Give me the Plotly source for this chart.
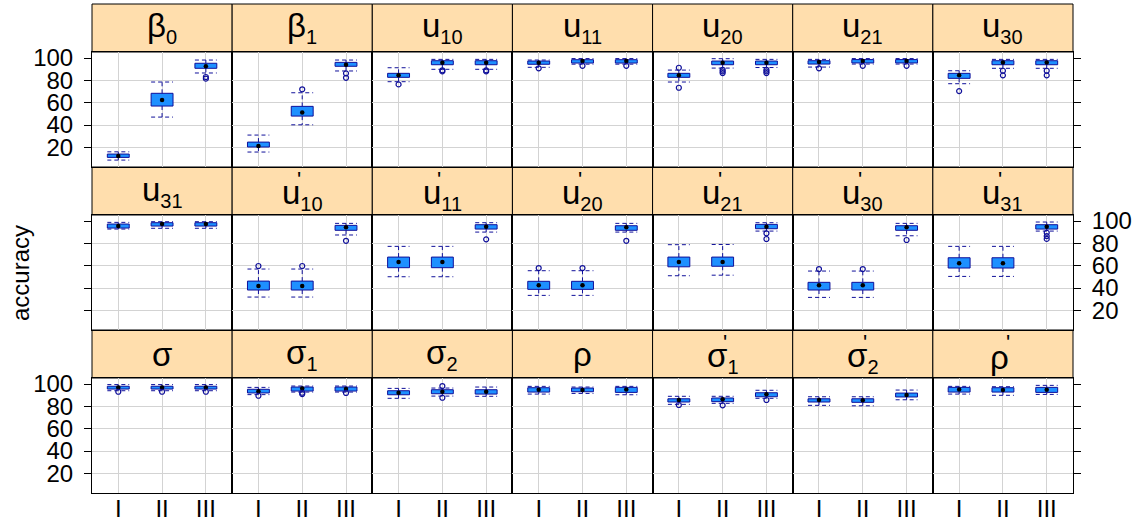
import plotly.graph_objects as go

# ---------------- data ----------------
GROUPS = ["I", "II", "III"]

STRIP_MAIN = ["β", "β", "u", "u", "u", "u", "u",
              "u", "u", "u", "u", "u", "u", "u",
              "σ", "σ", "σ", "ρ", "σ", "σ", "ρ"]
STRIP_SUB = ["0", "1", "10", "11", "20", "21", "30",
             "31", "10", "11", "20", "21", "30", "31",
             "", "1", "2", "", "1", "2", ""]
STRIP_PRIME = [False] * 7 + [False] + [True] * 6 + [False] * 4 + [True] * 3

LOWER = [
    [8.6, 47.1, 86.6], [15.8, 40.2, 88.4], [78.8, 89.9, 89.9], [91.7, 94.5, 94.5],
    [78.5, 91.0, 91.5], [91.9, 94.6, 94.6], [77.0, 90.8, 90.8],
    [92.8, 93.5, 93.5], [31.9, 31.9, 87.5], [50.1, 50.1, 90.1], [33.4, 33.4, 90.1],
    [51.0, 51.5, 91.0], [31.6, 31.6, 86.8], [50.4, 50.4, 91.0],
    [94.0, 94.0, 94.0], [90.5, 92.8, 92.8], [87.2, 89.2, 89.0], [91.0, 91.6, 90.4],
    [81.8, 82.7, 87.2], [80.9, 80.5, 85.9], [91.0, 89.9, 90.7],
]
Q1 = [
    [11.0, 57.0, 90.8], [20.3, 48.0, 92.6], [82.7, 94.0, 94.0], [94.4, 95.5, 95.5],
    [82.7, 94.0, 94.0], [94.6, 95.6, 95.6], [81.8, 94.0, 94.0],
    [93.7, 95.5, 95.5], [38.2, 38.2, 91.7], [58.2, 58.2, 92.8], [38.8, 38.8, 91.7],
    [59.0, 59.5, 93.1], [38.2, 38.2, 91.7], [57.9, 57.9, 92.8],
    [95.5, 95.5, 95.5], [92.0, 93.7, 93.7], [90.4, 91.3, 91.0], [92.8, 93.1, 92.5],
    [83.9, 84.2, 88.6], [83.9, 83.6, 88.4], [92.8, 92.8, 92.5],
]
MEDIAN = [
    [12.2, 62.4, 92.6], [21.1, 51.3, 94.0], [84.5, 95.8, 95.8], [95.8, 97.3, 97.3],
    [84.5, 95.8, 95.8], [96.4, 97.3, 97.3], [84.5, 96.1, 96.1],
    [95.5, 97.3, 97.3], [41.8, 41.8, 94.4], [63.3, 63.3, 94.9], [42.4, 42.4, 94.4],
    [63.3, 63.3, 94.9], [42.4, 42.4, 94.4], [62.1, 62.1, 94.9],
    [97.0, 97.0, 97.0], [93.5, 96.1, 95.5], [92.2, 93.1, 93.1], [94.9, 94.6, 95.2],
    [85.7, 86.3, 90.8], [85.7, 85.5, 90.1], [95.2, 94.6, 94.9],
]
Q3 = [
    [14.0, 68.4, 95.3], [24.7, 56.7, 96.1], [86.3, 97.6, 97.6], [97.3, 98.5, 98.5],
    [86.3, 97.3, 97.3], [97.6, 98.6, 98.6], [86.3, 97.6, 97.6],
    [97.3, 98.5, 98.5], [46.2, 46.2, 96.1], [67.7, 67.7, 96.7], [46.0, 46.0, 95.8],
    [67.7, 67.7, 97.0], [45.1, 45.1, 95.8], [67.1, 67.1, 96.7],
    [98.0, 98.0, 98.0], [95.3, 97.3, 97.3], [94.0, 94.9, 94.9], [96.7, 96.4, 97.0],
    [86.8, 87.5, 92.2], [86.8, 86.8, 91.9], [97.0, 96.7, 97.0],
]
UPPER = [
    [16.0, 78.5, 98.2], [31.0, 68.9, 98.2], [91.3, 98.8, 98.8], [98.2, 99.5, 99.5],
    [89.2, 99.4, 98.8], [98.8, 99.5, 99.5], [88.6, 98.8, 98.8],
    [98.8, 99.4, 99.4], [57.0, 57.0, 97.9], [77.3, 77.3, 98.5], [55.5, 55.5, 97.9],
    [78.8, 79.0, 98.5], [55.2, 55.2, 97.9], [77.3, 77.3, 99.1],
    [99.5, 99.5, 99.5], [97.0, 98.2, 98.2], [96.1, 96.4, 97.3], [97.9, 97.3, 97.9],
    [89.0, 89.0, 94.4], [88.6, 88.6, 94.6], [97.9, 97.6, 98.8],
]
OUTLIERS = [
    [[], [], [83.0, 81.5]], [[], [72.0], [86.3, 82.3]], [[76.4], [89.0, 88.0], [89.0, 88.0]],
    [[90.8], [93.0], [93.0]], [[91.3, 73.4], [89.5, 88.0, 86.5], [89.5, 88.0, 86.5]],
    [[90.8], [93.0], [93.0]], [[70.4], [88.6, 84.5], [88.6, 84.5]],
    [[], [], []], [[59.7], [59.7], [82.3]], [[], [], [83.6]], [[57.9], [57.9], [82.3]],
    [[], [], [89.0, 83.9]], [[57.0], [57.0], [83.0]], [[], [], [89.5, 86.5, 84.0]],
    [[93.1], [93.1], [93.1]], [[89.5], [92.2, 91.0], [92.0]], [[], [98.2, 87.7], []],
    [[], [], []], [[81.2], [80.9], [85.7]], [[], [], []], [[], [], []],
]
Y_TICKS = [20, 40, 60, 80, 100]
Y_GRID = [20, 40, 60, 80]
Y_TITLE = "accuracy"

# ---------------- layout geometry (pixels) ----------------
W, H = 1133, 523
LEFT, RIGHT = 92, 1073
COLW = (RIGHT - LEFT) / 7
TOP0, STRIP_H, PANEL_H, ROW_STEP = 4, 48, 115, 163
BOX_W = 0.5
FILL = "#1E90FF"
EDGE = "#10109A"
STRIP_FILL = "#FFDEAD"
GRID = "#D3D3D3"
FONT = "Liberation Sans, Arial, sans-serif"

fig = go.Figure()
layout = dict(width=W, height=H, margin=dict(l=0, r=0, t=0, b=0, pad=0, autoexpand=False),
              paper_bgcolor="white", plot_bgcolor="white", showlegend=False,
              autosize=False, hovermode=False, font=dict(family=FONT, color="black"))
shapes, annotations = [], []

for i in range(21):
    r, c = divmod(i, 7)
    n = i + 1
    sfx = "" if n == 1 else str(n)
    x0 = LEFT + c * COLW
    x1 = x0 + COLW
    st = TOP0 + r * ROW_STEP
    pt = st + STRIP_H
    pb = pt + PANEL_H

    xa = dict(domain=[x0 / W, x1 / W], range=[0.4, 3.6], anchor="y" + sfx,
              tickvals=[1, 2, 3], ticktext=GROUPS, showgrid=True, gridcolor=GRID,
              gridwidth=1, zeroline=False, showline=True, mirror=True,
              linecolor="black", linewidth=1, ticks="", automargin=False,
              showticklabels=(r == 2), tickfont=dict(size=24, family=FONT),
              ticklabelstandoff=-6)
    ya = dict(domain=[1 - pb / H, 1 - pt / H], range=[2.4, 105.4], anchor="x" + sfx,
              tickvals=Y_TICKS, showgrid=False, zeroline=False, showline=True,
              mirror=True, linecolor="black", linewidth=1, automargin=False,
              minor=dict(tickvals=Y_GRID, showgrid=True, gridcolor=GRID, gridwidth=1, ticks=""),
              tickfont=dict(size=24, family=FONT), ticklabelstandoff=6)
    if c == 0:
        ya.update(side="left", ticks="outside", ticklen=7, tickcolor="black",
                  showticklabels=(r != 1))
    elif c == 6:
        ya.update(side="right", ticks="outside", ticklen=7, tickcolor="black",
                  showticklabels=(r == 1))
    else:
        ya.update(ticks="", showticklabels=False)
    layout["xaxis" + sfx] = xa
    layout["yaxis" + sfx] = ya

    xs = [1, 2, 3]
    # boxes
    fig.add_trace(go.Bar(x=xs, base=Q1[i], y=[q3 - q1 for q1, q3 in zip(Q1[i], Q3[i])],
                         width=BOX_W, marker=dict(color=FILL, line=dict(color=EDGE, width=1)),
                         xaxis="x" + sfx, yaxis="y" + sfx))
    # whiskers + caps
    wx, wy = [], []
    for g in range(3):
        xg = xs[g]
        wx += [xg, xg, None, xg, xg, None,
               xg - BOX_W / 2, xg + BOX_W / 2, None, xg - BOX_W / 2, xg + BOX_W / 2, None]
        wy += [Q3[i][g], UPPER[i][g], None, Q1[i][g], LOWER[i][g], None,
               UPPER[i][g], UPPER[i][g], None, LOWER[i][g], LOWER[i][g], None]
    fig.add_trace(go.Scatter(x=wx, y=wy, mode="lines",
                             line=dict(color=EDGE, width=1, dash="4px,3px"),
                             xaxis="x" + sfx, yaxis="y" + sfx))
    # medians
    fig.add_trace(go.Scatter(x=xs, y=MEDIAN[i], mode="markers",
                             marker=dict(color="black", size=4.5),
                             xaxis="x" + sfx, yaxis="y" + sfx))
    # outliers
    ox, oy = [], []
    for g in range(3):
        for v in OUTLIERS[i][g]:
            ox.append(xs[g])
            oy.append(v)
    fig.add_trace(go.Scatter(x=ox, y=oy, mode="markers",
                             marker=dict(symbol="circle-open", color=EDGE, size=5,
                                         line=dict(width=1.2, color=EDGE)),
                             xaxis="x" + sfx, yaxis="y" + sfx))

    # strip
    shapes.append(dict(type="rect", xref="paper", yref="paper",
                       x0=x0 / W, x1=x1 / W, y0=1 - pt / H, y1=1 - st / H,
                       fillcolor=STRIP_FILL, line=dict(color="black", width=1), layer="below"))
    cx = (x0 + x1) / 2
    main = STRIP_MAIN[i]
    sub = STRIP_SUB[i]
    prime = STRIP_PRIME[i]
    w_main = 18.0
    w_sub = 11.0 * len(sub)
    txt = main
    if sub:
        txt += "<sub><span style='font-size:20px'>" + sub + "</span></sub>"
    yshift = -3 if prime else 0
    xshift = 0
    if prime and not sub:
        xshift = -3
    annotations.append(dict(xref="paper", yref="paper", x=cx / W, y=1 - (st + 24) / H,
                            text=txt, showarrow=False, xanchor="center", yanchor="middle",
                            yshift=yshift, xshift=xshift,
                            font=dict(size=33, family=FONT, color="black")))
    if prime:
        tot = w_main + (w_sub if sub else 4)
        px = cx - tot / 2 + w_main - 1 + xshift + (2 if not sub else 0)
        annotations.append(dict(xref="paper", yref="paper", x=px / W, y=1 - (st + 1) / H,
                                text="'", showarrow=False, xanchor="center", yanchor="top",
                                yshift=3,
                                font=dict(size=22, family=FONT, color="black")))

annotations.append(dict(xref="paper", yref="paper", x=20 / W, y=1 - 273 / H,
                        text=Y_TITLE, showarrow=False, textangle=-90,
                        xanchor="center", yanchor="middle",
                        font=dict(size=24, family=FONT, color="black")))

layout["shapes"] = shapes
layout["annotations"] = annotations
layout["barmode"] = "overlay"
fig.update_layout(**layout)
fig.write_html("out.html", config={"displayModeBar": False},
               post_script="document.body.style.margin='0px';document.body.style.overflow='hidden';")
